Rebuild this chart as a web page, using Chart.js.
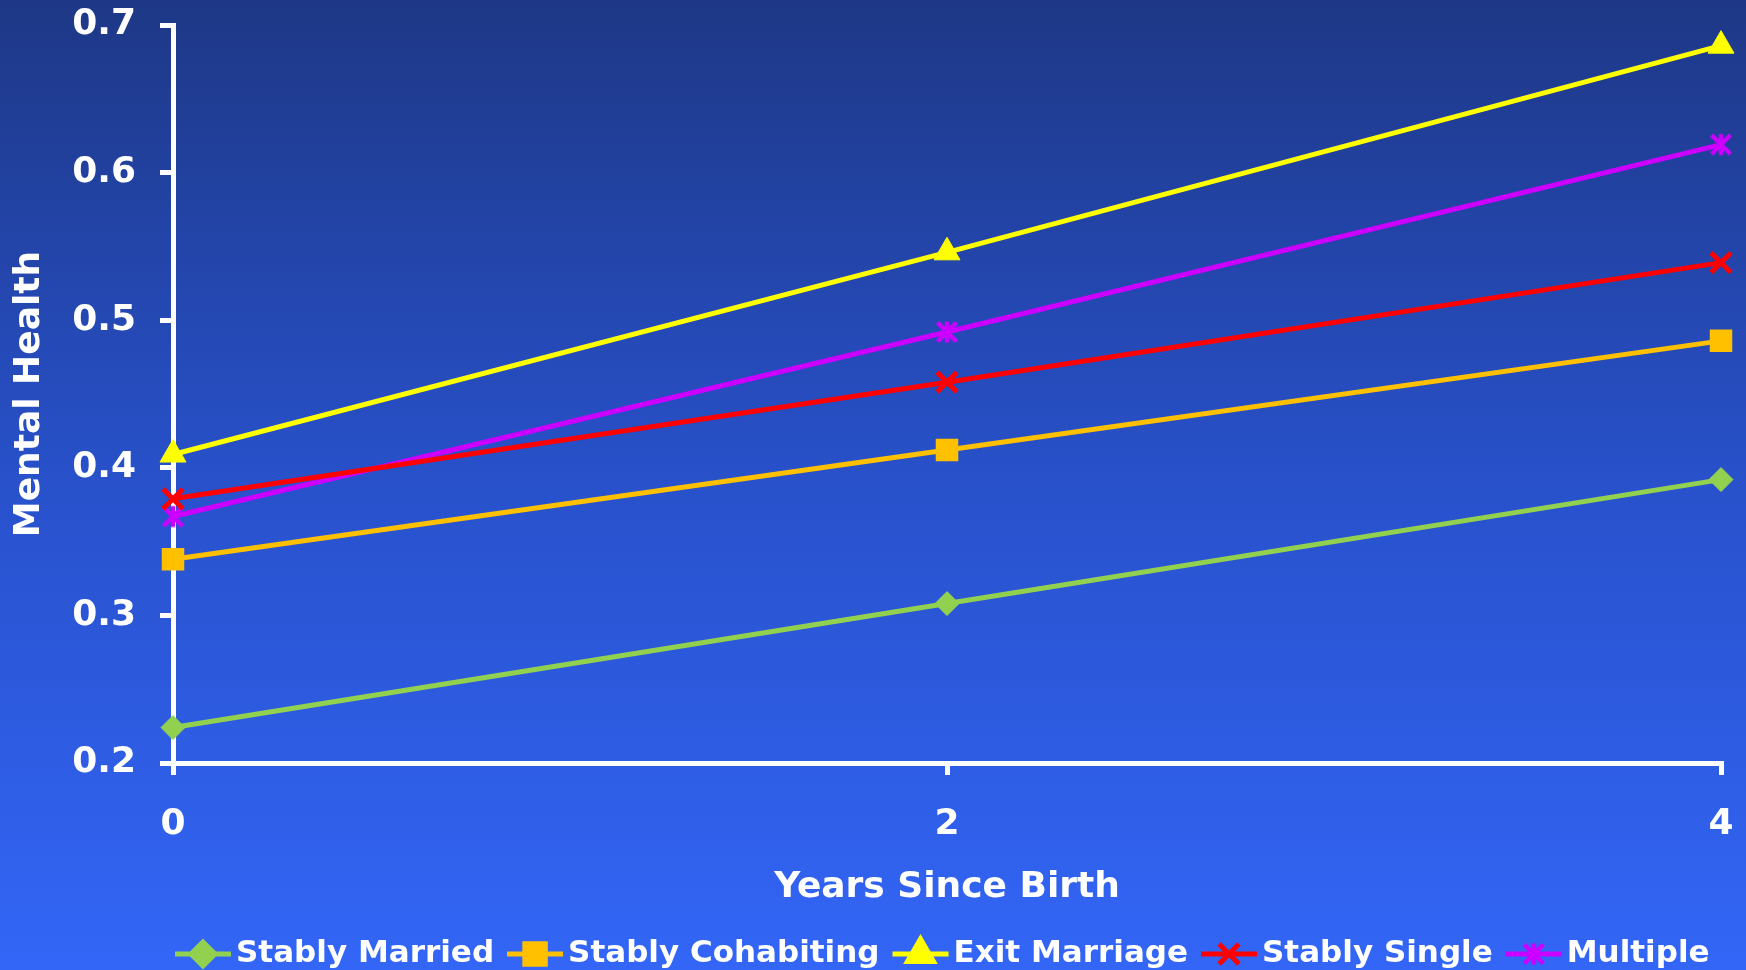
<!DOCTYPE html>
<html>
<head>
<meta charset="utf-8">
<script src="https://cdn.jsdelivr.net/npm/chart.js@4.4.1/dist/chart.umd.min.js"></script>
<style>
  html, body { margin: 0; padding: 0; overflow: hidden; background: #2a52c8; }
  canvas { display: block; }
</style>
</head>
<body>
<canvas id="chart" width="1746" height="970"></canvas>
<script>
// Years since birth (x axis categories)
const years = ['0', '2', '4'];

// Predicted mental health score by family structure
const stablyMarried    = [0.224, 0.308, 0.392];
const stablyCohabiting = [0.338, 0.412, 0.486];
const exitMarriage     = [0.409, 0.546, 0.686];
const stablySingle     = [0.379, 0.458, 0.539];
const multiple         = [0.367, 0.492, 0.619];

const seriesNames = ['Stably Married', 'Stably Cohabiting', 'Exit Marriage', 'Stably Single', 'Multiple'];
const yTicks = [0.2, 0.3, 0.4, 0.5, 0.6, 0.7];

const FONT = '"DejaVu Sans", Verdana, sans-serif';

// Asterisk marker: a diagonal cross with a vertical bar through it
function asteriskMarker(color, half, width) {
  const size = Math.ceil(half * 2 + width + 2);
  const c = document.createElement('canvas');
  c.width = size; c.height = size;
  const g = c.getContext('2d');
  const m = size / 2;
  g.strokeStyle = color;
  g.lineWidth = width;
  g.lineCap = 'butt';
  g.beginPath();
  g.moveTo(m - half, m - half); g.lineTo(m + half, m + half);
  g.moveTo(m + half, m - half); g.lineTo(m - half, m + half);
  g.moveTo(m, m - half - 1); g.lineTo(m, m + half + 1);
  g.stroke();
  return c;
}

// Blue gradient backdrop
const backdrop = {
  id: 'backdrop',
  beforeDraw(chart) {
    const { ctx, width, height } = chart;
    const g = ctx.createLinearGradient(0, 0, 0, height);
    g.addColorStop(0, '#1e3886');
    g.addColorStop(0.5, '#2851cb');
    g.addColorStop(1, '#3366f7');
    ctx.save();
    ctx.fillStyle = g;
    ctx.fillRect(0, 0, width, height);
    ctx.restore();
  }
};

// Single-row legend along the bottom: line sample with marker, then a bold label
const bottomLegend = {
  id: 'bottomLegend',
  afterDraw(chart) {
    const ctx = chart.ctx;
    const cy = chart.height - 16;
    const baseline = chart.height - 8;
    let x = 175;
    ctx.save();
    ctx.font = 'bold 31px ' + FONT;
    ctx.textBaseline = 'alphabetic';
    chart.data.datasets.forEach(ds => {
      ctx.strokeStyle = ds.borderColor;
      ctx.lineWidth = 5;
      ctx.lineCap = 'butt';
      ctx.beginPath();
      ctx.moveTo(x, cy);
      ctx.lineTo(x + 56, cy);
      ctx.stroke();
      ctx.fillStyle = ds.pointBackgroundColor;
      ctx.strokeStyle = ds.pointBorderColor;
      if (Chart.helpers && Chart.helpers.drawPoint) {
        Chart.helpers.drawPoint(ctx, {
          pointStyle: ds.pointStyle,
          radius: ds.pointRadius,
          rotation: 0,
          borderWidth: ds.pointBorderWidth
        }, x + 28, cy);
      }
      x += 61;
      ctx.fillStyle = '#ffffff';
      ctx.fillText(ds.label, x, baseline);
      x += ctx.measureText(ds.label).width + 13;
    });
    ctx.restore();
  }
};

function series(label, data, color, style, radius, bw) {
  return {
    label,
    data,
    borderColor: color,
    backgroundColor: color,
    borderWidth: 5,
    pointStyle: style,
    pointRadius: radius,
    pointHoverRadius: radius,
    pointBackgroundColor: color,
    pointBorderColor: color,
    pointBorderWidth: bw,
    tension: 0,
    clip: false
  };
}

new Chart(document.getElementById('chart'), {
  type: 'line',
  data: {
    labels: years,
    datasets: [
      series(seriesNames[0], stablyMarried,    '#92d050', 'rectRot', 12, 1),
      series(seriesNames[1], stablyCohabiting, '#ffc000', 'rect', 14.5, 2),
      series(seriesNames[2], exitMarriage,     '#ffff00', 'triangle', 15, 1),
      series(seriesNames[3], stablySingle,     '#ff0000', 'crossRot', 14, 5),
      series(seriesNames[4], multiple,         '#cc00ff', asteriskMarker('#cc00ff', 9.5, 4.5), 12, 1)
    ]
  },
  options: {
    responsive: false,
    animation: false,
    devicePixelRatio: 1,
    layout: { padding: { top: 25, right: 25, bottom: 61, left: 0 } },
    plugins: {
      legend: { display: false },
      tooltip: { enabled: false }
    },
    scales: {
      x: {
        type: 'category',
        offset: false,
        grid: { drawOnChartArea: false, drawTicks: true, tickLength: 12, color: '#ffffff', lineWidth: 5 },
        border: { display: true, color: '#ffffff', width: 5 },
        ticks: { color: '#ffffff', font: { family: FONT, size: 36, weight: 'bold' }, padding: 28, maxRotation: 0 },
        title: { display: true, text: 'Years Since Birth', color: '#ffffff', font: { family: FONT, size: 36, weight: 'bold' }, padding: 0 },
        afterFit(scale) {
          scale.height = 146;
          scale.paddingLeft = 0;
          scale.paddingRight = 0;
        }
      },
      y: {
        min: 0.2,
        max: 0.7,
        afterBuildTicks(scale) { scale.ticks = yTicks.map(v => ({ value: v })); },
        grid: { drawOnChartArea: false, drawTicks: true, tickLength: 13, color: '#ffffff', lineWidth: 5 },
        border: { display: true, color: '#ffffff', width: 5 },
        ticks: {
          color: '#ffffff',
          font: { family: FONT, size: 36, weight: 'bold' },
          padding: 24,
          callback: v => Number(v).toFixed(1)
        },
        title: { display: true, text: 'Mental Health', color: '#ffffff', font: { family: FONT, size: 36, weight: 'bold' }, padding: { top: 8, bottom: 0 } },
        afterFit(scale) {
          scale.width = 173;
          scale.paddingTop = 0;
          scale.paddingBottom = 0;
        }
      }
    }
  },
  plugins: [backdrop, bottomLegend]
});
</script>
</body>
</html>
